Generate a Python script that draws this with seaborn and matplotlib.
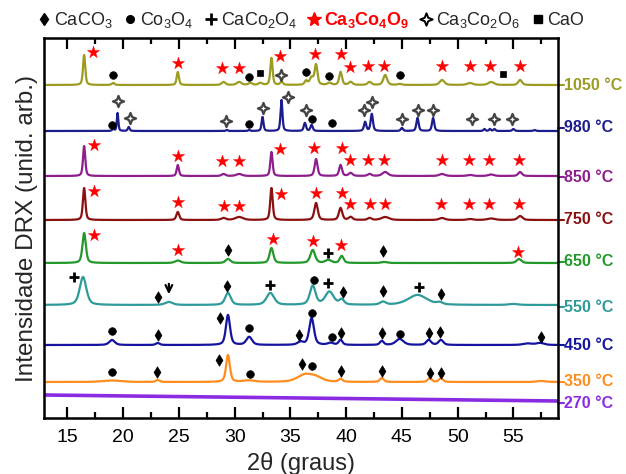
import numpy as np
import matplotlib
matplotlib.use("Agg")
import matplotlib.pyplot as plt
import matplotlib.transforms as mtransforms
from matplotlib.lines import Line2D
from matplotlib.path import Path
from matplotlib.ticker import MultipleLocator
import seaborn as sns

sns.set_theme(style="ticks")
plt.rcParams["font.family"] = ["Liberation Sans", "DejaVu Sans"]
plt.rcParams["mathtext.fontset"] = "custom"
plt.rcParams["mathtext.rm"] = "Liberation Sans"
plt.rcParams["mathtext.it"] = "Liberation Sans:italic"
plt.rcParams["mathtext.bf"] = "Liberation Sans:bold"

# ---------------------------------------------------------------------------
# Data (y in arbitrary stacked units)
# ---------------------------------------------------------------------------
TEMPS = ["1050 °C", "980 °C", "850 °C", "750 °C", "650 °C",
         "550 °C", "450 °C", "350 °C", "270 °C"]
BASELINES = [333, 287, 242, 198, 155, 113, 73, 36, 20]

# peaks: (2theta, height, half width)
PEAKS = {
    "1050 °C": [(16.5, 30, 0.12), (19.1, 2, 0.15), (24.9, 13, 0.12), (29.0, 3, 0.2),
                (30.4, 3, 0.25), (31.4, 2, 0.2), (32.3, 2, 0.2), (33.3, 27, 0.12),
                (34.2, 3, 0.15), (36.4, 4, 0.15), (36.9, 7, 0.2), (37.3, 20, 0.15),
                (38.5, 2, 0.2), (39.5, 13, 0.15), (40.4, 3, 0.2), (42.1, 3, 0.2),
                (43.5, 10, 0.2), (44.8, 1, 0.2), (48.6, 5, 0.25), (51.1, 2, 0.3),
                (53.0, 3, 0.3), (55.6, 5, 0.2)],
    "980 °C": [(19.1, 2, 0.1), (19.5, 18, 0.08), (20.5, 4, 0.1), (29.3, 1, 0.1),
               (31.3, 1, 0.1), (32.5, 14, 0.1), (34.2, 31, 0.1), (36.3, 8, 0.12),
               (36.9, 6, 0.12), (41.7, 9, 0.12), (42.3, 17, 0.12), (45.0, 3, 0.12),
               (46.4, 13, 0.12), (47.8, 13, 0.12), (52.4, 2, 0.1), (52.9, 2, 0.1),
               (53.3, 2, 0.1), (55.0, 2, 0.12), (56.9, 1, 0.12)],
    "850 °C": [(16.5, 30, 0.12), (24.9, 11, 0.12), (29.0, 2, 0.2), (30.4, 2, 0.3),
               (33.3, 24, 0.12), (37.3, 17, 0.15), (39.5, 11, 0.15), (40.4, 3, 0.2),
               (42.1, 2, 0.2), (43.5, 4, 0.3), (48.6, 2, 0.3), (51.1, 1, 0.3),
               (53.0, 1.5, 0.3), (55.6, 4, 0.2)],
    "750 °C": [(16.5, 32, 0.13), (24.9, 8, 0.15), (29.0, 2, 0.25), (30.4, 3, 0.4),
               (33.3, 32, 0.13), (37.3, 17, 0.18), (39.5, 12, 0.18), (40.4, 3, 0.2),
               (42.1, 2, 0.2), (43.5, 3, 0.4), (48.6, 2, 0.3), (51.1, 1, 0.3),
               (53.0, 1.5, 0.4), (55.6, 4, 0.25)],
    "650 °C": [(16.5, 30, 0.18), (24.9, 2.5, 0.3), (29.4, 4, 0.25), (33.3, 15, 0.2),
               (37.0, 13, 0.25), (38.4, 3, 0.3), (39.6, 7, 0.2), (43.4, 1, 0.3),
               (55.5, 4, 0.25)],
    "550 °C": [(16.4, 28, 0.35), (24.1, 3, 0.4), (29.4, 12, 0.3), (33.2, 12, 0.4),
               (37.0, 19, 0.3), (38.5, 13, 0.45), (39.6, 5, 0.25), (43.3, 3, 0.3),
               (46.4, 10, 1.0), (48.4, 2, 0.3), (55.0, 1, 0.5)],
    "450 °C": [(19.0, 5, 0.3), (23.1, 2, 0.2), (29.4, 30, 0.22), (31.3, 8, 0.3),
               (35.9, 3, 0.3), (36.9, 27, 0.25), (38.6, 2, 0.3), (39.5, 5, 0.2),
               (43.2, 4, 0.2), (44.8, 6, 0.4), (47.4, 5, 0.25), (48.5, 5, 0.25),
               (56.3, 1.5, 0.5), (57.4, 2, 0.4)],
    "350 °C": [(19.0, 1.5, 1.0), (23.1, 2, 0.2), (29.4, 27, 0.2), (31.3, 1.5, 0.6),
               (36.3, 7, 0.8), (37.3, 4, 0.7), (39.5, 3, 0.2), (43.2, 4, 0.2),
               (47.5, 4, 0.2), (48.5, 4, 0.2), (57.5, 1, 0.5)],
    "270 °C": [],
}
DRIFT_270 = ([12.9, 59.0], [3, -3])

COLORS = ["#9C9C22", "#1C1C8C", "#8E1E8E", "#8B1010", "#22992A",
          "#2E9A9A", "#1414A0", "#FF8C1E", "#8A2BE2"]

# phase markers: 2theta and stacked y
CACO3_X = [29.4, 43.3, 23.1, 29.3, 39.7, 43.3, 48.5, 23.1, 28.7, 35.8, 39.5, 43.2,
           47.4, 48.4, 57.5, 23.0, 28.6, 36.0, 39.5, 43.2, 47.5, 48.5]
CACO3_Y = [168, 167, 121, 132, 126, 127, 124, 83, 100, 83, 85, 85,
           85, 86, 81, 46, 58, 54, 47, 47, 45, 45]

CO3O4_X = [19.1, 31.3, 36.4, 38.5, 44.8, 19.0, 31.3, 36.9, 38.7, 37.1,
           19.0, 31.3, 36.9, 38.7, 44.8, 19.0, 31.35, 36.95]
CO3O4_Y = [343, 341, 346, 342, 343, 293, 294, 299, 295, 138,
           87, 90, 105, 81, 84, 46, 44, 52]

CACO2O4_X = [38.4, 15.6, 33.2, 38.4, 46.5]
CACO2O4_Y = [165, 141, 133, 135, 131]

CA3CO4O9_X = [17.3, 24.9, 28.9, 30.4, 34.1, 37.2, 39.5, 40.3, 42.0, 43.4, 48.6, 51.1, 52.9, 55.6,
              17.4, 24.9, 28.9, 30.4, 34.1, 37.1, 39.6, 40.3, 42.0, 43.4, 48.6, 51.0, 52.8, 55.5,
              17.4, 24.9, 29.0, 30.4, 34.2, 37.3, 39.6, 40.3, 42.1, 43.5, 48.5, 51.0, 52.8, 55.5,
              17.4, 24.9, 33.4, 37.0, 39.5, 55.4]
CA3CO4O9_Y = [366, 355, 350, 350, 362, 364, 364, 351, 352, 352, 352, 352, 352, 352,
              273, 262, 257, 257, 269, 270, 270, 258, 258, 258, 258, 258, 258, 258,
              227, 216, 212, 212, 224, 225, 225, 214, 214, 214, 214, 214, 214, 214,
              183, 168, 179, 177, 173, 166]

CA3CO2O6_X = [34.2, 19.5, 20.6, 29.2, 32.5, 34.8, 36.4, 41.6, 42.3, 45.0, 46.4, 47.8,
              51.3, 53.3, 54.9]
CA3CO2O6_Y = [343, 317, 300, 297, 310, 321, 308, 308, 316, 299, 308, 308,
              299, 299, 299]

CAO_X = [32.3, 54.1]
CAO_Y = [345, 344]

ARROW_X, ARROW_Y = 24.1, (137, 121)

LEGEND_LABELS = ["CaCO$_3$", "Co$_3$O$_4$", "CaCo$_2$O$_4$",
                 r"$\mathbf{Ca_3Co_4O_9}$", "Ca$_3$Co$_2$O$_6$", "CaO"]

# ---------------------------------------------------------------------------
# Plot
# ---------------------------------------------------------------------------
STAR4 = Path([(0, 1), (0.28, 0.28), (1, 0), (0.28, -0.28), (0, -1),
              (-0.28, -0.28), (-1, 0), (-0.28, 0.28), (0, 1)],
             [Path.MOVETO] + [Path.LINETO] * 7 + [Path.CLOSEPOLY])

two_theta = np.arange(12.9, 59.0, 0.02)


def pattern(peaks, base):
    y = np.full_like(two_theta, float(base))
    for pos, h, w in peaks:
        u = (two_theta - pos) / w
        y += h * (0.5 / (1 + u ** 2) + 0.5 * np.exp(-np.log(2) * u ** 2))
    return y


fig = plt.figure(figsize=(6.26, 4.74), dpi=100)
ax = fig.add_axes([44 / 626, 56 / 474, 514 / 626, 380 / 474])

for temp, base, colour in zip(TEMPS, BASELINES, COLORS):
    y = pattern(PEAKS[temp], base)
    if temp == "270 °C":
        y = y + np.interp(two_theta, *DRIFT_270)
    lw = 2.6 if temp == "270 °C" else 1.6
    sns.lineplot(x=two_theta, y=y, color=colour, linewidth=lw,
                 estimator=None, sort=False, ax=ax)

scatter_kw = dict(ax=ax, zorder=4, legend=False)
sns.scatterplot(x=CACO3_X, y=CACO3_Y, marker="d", s=34, color="black",
                edgecolor="black", linewidth=0.5, **scatter_kw)
sns.scatterplot(x=CO3O4_X, y=CO3O4_Y, marker="o", s=30, color="black",
                edgecolor="black", linewidth=0.5, **scatter_kw)
sns.scatterplot(x=CACO2O4_X, y=CACO2O4_Y, marker="+", s=50, color="black",
                linewidth=2, **scatter_kw)
sns.scatterplot(x=CA3CO4O9_X, y=CA3CO4O9_Y, marker="*", s=85, color="red",
                edgecolor="red", linewidth=0.3, **scatter_kw)
sns.scatterplot(x=CA3CO2O6_X, y=CA3CO2O6_Y, marker=STAR4, s=65, color="white",
                edgecolor="#444444", linewidth=1.6, **scatter_kw)
sns.scatterplot(x=CAO_X, y=CAO_Y, marker="s", s=25, color="black",
                edgecolor="black", linewidth=0.5, **scatter_kw)
ax.annotate("", xy=(ARROW_X, ARROW_Y[1]), xytext=(ARROW_X, ARROW_Y[0]),
            arrowprops=dict(arrowstyle="->", color="black", lw=1.6,
                            mutation_scale=12), zorder=4)

ax.set_xlim(12.9, 59.0)
ax.set_ylim(0, 380)
ax.xaxis.set_major_locator(MultipleLocator(5))
ax.xaxis.set_minor_locator(MultipleLocator(2.5))
ax.set_yticks([])
ax.tick_params(axis="x", which="both", direction="in", top=True, bottom=True,
               width=1.6, labelsize=14, pad=8, colors="black")
ax.tick_params(axis="x", which="major", length=8)
ax.tick_params(axis="x", which="minor", length=4)
for spine in ax.spines.values():
    spine.set_visible(True)
    spine.set_linewidth(1.8)
    spine.set_color("black")
ax.set_xlabel("2θ (graus)", fontsize=17, labelpad=4)
ax.set_ylabel("Intensidade DRX (unid. arb.)", fontsize=17.5, labelpad=4)

# curve labels on the right
label_y = [333, 290, 241, 198, 156, 111, 73, 36, 15]
trans = mtransforms.blended_transform_factory(ax.transAxes, ax.transData)
for temp, yl, colour in zip(TEMPS, label_y, COLORS):
    ax.plot([1.0, 1.011], [yl, yl], transform=trans, color=colour,
            linewidth=1.5, clip_on=False)
    ax.text(1.012, yl, temp, transform=trans, color=colour, fontsize=11.5,
            fontweight="bold", va="center", ha="left", clip_on=False)

# legend on top
handles = [
    Line2D([], [], ls="none", marker="d", ms=6, color="black"),
    Line2D([], [], ls="none", marker="o", ms=5.5, color="black"),
    Line2D([], [], ls="none", marker="+", ms=8, mew=2, color="black"),
    Line2D([], [], ls="none", marker="*", ms=10, color="red"),
    Line2D([], [], ls="none", marker=STAR4, ms=9, mfc="white", mec="black", mew=1.4),
    Line2D([], [], ls="none", marker="s", ms=6, color="black"),
]
leg = ax.legend(handles, LEGEND_LABELS, ncol=6, loc="lower center",
                bbox_to_anchor=(0.52, 1.02), frameon=False, fontsize=13,
                handlelength=0.7, handletextpad=0.2, columnspacing=0.6,
                borderaxespad=0, borderpad=0)
leg.get_texts()[3].set_color("red")

fig.savefig("out.png", dpi=100)
